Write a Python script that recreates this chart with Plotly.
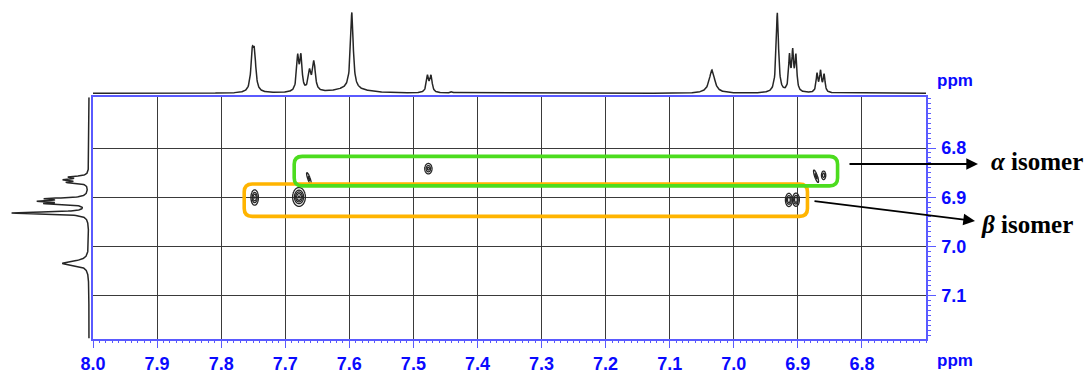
import numpy as np
import plotly.graph_objects as go

# ---------------- data ----------------
# 1D 1H spectrum shown along the top (F2): line positions (ppm), heights, half-widths (ppm)
f2_shift = [7.7515, 7.7480, 7.6805, 7.6755, 7.6620, 7.6552, 7.5960, 7.6000,
            7.4780, 7.4725, 7.4400, 7.0340, 6.9320, 6.9130, 6.9080, 6.9030,
            6.8700, 6.8645, 6.8590]
f2_height = [34, 34, 33, 33, 19, 29, 76, 4,
             16, 16, 1.5, 23, 79, 34, 37, 34,
             18, 20, 17]
f2_hwhm = [0.0025, 0.0025, 0.0021, 0.0021, 0.0025, 0.0025, 0.0025, 0.0300,
           0.0021, 0.0021, 0.0020, 0.0050, 0.0022, 0.0017, 0.0017, 0.0017,
           0.0017, 0.0017, 0.0017]

# 1D projection shown on the left (F1)
f1_shift = [6.8700, 6.8645, 6.8590, 6.9130, 6.9080, 6.9030, 6.9320, 7.0340]
f1_height = [20, 22, 18, 38, 42, 38, 78, 27]
f1_hwhm = [0.0020, 0.0020, 0.0020, 0.0020, 0.0020, 0.0020, 0.0022, 0.0050]

# 2D cross peaks: F2 (ppm), F1 (ppm), amplitude, widths (ppm), tilt
cp_f2 = [7.7477, 7.6785, 6.9140, 6.9030, 7.6630, 7.4766, 6.8716, 6.8598]
cp_f1 = [6.9006, 6.8994, 6.9055, 6.9050, 6.8620, 6.8420, 6.8574, 6.8555]
cp_amp = [1.0, 1.3, 0.95, 0.95, 0.5, 0.8, 0.55, 0.6]
cp_sx = [0.0030, 0.0048, 0.0028, 0.0028, 0.0013, 0.0031, 0.0014, 0.0020]
cp_sy = [0.0080, 0.0092, 0.0070, 0.0070, 0.0078, 0.0058, 0.0078, 0.0052]
cp_tilt = [0.0, 0.0, 0.0, 0.0, -0.254, 0.0, -0.254, 0.0]

# highlighted regions (F2 range, F1 range)
alpha_box_f2 = [6.838, 7.686]
alpha_box_f1 = [6.817, 6.877]
beta_box_f2 = [6.885, 7.764]
beta_box_f1 = [6.873, 6.939]

x_ticks = [8.0, 7.9, 7.8, 7.7, 7.6, 7.5, 7.4, 7.3, 7.2, 7.1, 7.0, 6.9, 6.8]
y_ticks = [6.8, 6.9, 7.0, 7.1]

# ---------------- helpers ----------------
W, H = 1090, 373
BLUE = "#0a0aff"
FRAME = "#5a5aff"
GRID = "#3a3a3a"


def lorentz(axis, shifts, heights, hwhms):
    out = np.zeros_like(axis)
    for s, h, w in zip(shifts, heights, hwhms):
        out += h / (1.0 + ((axis - s) / w) ** 2)
    return out


def px_x(p):
    return p / W


def px_y(p):
    return (H - p) / H


def rounded_box(xs, ys, rx, ry):
    xa, xb = min(xs), max(xs)
    ya, yb = min(ys), max(ys)
    return (f"M {xa + rx},{ya} L {xb - rx},{ya} Q {xb},{ya} {xb},{ya + ry} "
            f"L {xb},{yb - ry} Q {xb},{yb} {xb - rx},{yb} L {xa + rx},{yb} "
            f"Q {xa},{yb} {xa},{yb - ry} L {xa},{ya + ry} Q {xa},{ya} {xa + rx},{ya} Z")


X_RANGE = [8.0, 6.7]
Y_RANGE = [7.187, 6.697]

fig = go.Figure()

# top projection
ppm2 = np.linspace(6.7, 8.0, 2601)
spec2 = lorentz(ppm2, f2_shift, f2_height, f2_hwhm)
fig.add_trace(go.Scatter(x=ppm2, y=spec2, mode="lines", xaxis="x2", yaxis="y2",
                         line=dict(color="#262626", width=1.5), hoverinfo="skip"))

# left projection
ppm1 = np.linspace(6.697, 7.187, 1226)
spec1 = lorentz(ppm1, f1_shift, f1_height, f1_hwhm)
fig.add_trace(go.Scatter(x=spec1, y=ppm1, mode="lines", xaxis="x3", yaxis="y3",
                         line=dict(color="#262626", width=1.5), hoverinfo="skip"))

# contour cross peaks
for x0, y0, a, sx, sy, k in zip(cp_f2, cp_f1, cp_amp, cp_sx, cp_sy, cp_tilt):
    gx = np.linspace(x0 - 0.02, x0 + 0.02, 81)
    gy = np.linspace(y0 - 0.035, y0 + 0.035, 88)
    XX, YY = np.meshgrid(gx, gy)
    xs = XX - x0 - k * (YY - y0)
    Z = a * np.exp(-0.5 * ((xs / sx) ** 2 + ((YY - y0) / sy) ** 2))
    fig.add_trace(go.Contour(x=gx, y=gy, z=Z, xaxis="x", yaxis="y",
                             contours=dict(coloring="none", start=0.15, end=1.3, size=0.28),
                             line=dict(color="#262626", width=1.3),
                             showscale=False, hoverinfo="skip"))

# highlight boxes
rx, ry = 0.0125, 0.016
fig.add_shape(type="path", xref="x", yref="y",
              path=rounded_box(beta_box_f2, beta_box_f1, rx, ry),
              line=dict(color="#ffb400", width=3.6), layer="above")
fig.add_shape(type="path", xref="x", yref="y",
              path=rounded_box(alpha_box_f2, alpha_box_f1, rx, ry),
              line=dict(color="#4cdc1e", width=3.6), layer="above")

# arrows + labels
fig.add_annotation(x=px_x(978), y=px_y(164), xref="paper", yref="paper",
                   ax=-130, ay=0, axref="pixel", ayref="pixel", text="",
                   showarrow=True, arrowhead=2, arrowsize=1.3, arrowwidth=1.8,
                   arrowcolor="black")
fig.add_annotation(x=px_x(975), y=px_y(221), xref="paper", yref="paper",
                   ax=-162, ay=-20, axref="pixel", ayref="pixel", text="",
                   showarrow=True, arrowhead=2, arrowsize=1.3, arrowwidth=1.8,
                   arrowcolor="black")
fig.add_annotation(x=px_x(989), y=px_y(162), xref="paper", yref="paper",
                   xanchor="left", yanchor="middle", showarrow=False,
                   text="<b><i>α</i> isomer</b>",
                   font=dict(family="Liberation Serif", size=25, color="black"))
fig.add_annotation(x=px_x(979), y=px_y(225), xref="paper", yref="paper",
                   xanchor="left", yanchor="middle", showarrow=False,
                   text="<b><i>β</i> isomer</b>",
                   font=dict(family="Liberation Serif", size=25, color="black"))

# "ppm" axis unit labels
for yy in (80, 360):
    fig.add_annotation(x=px_x(955), y=px_y(yy), xref="paper", yref="paper",
                       xanchor="center", yanchor="middle",
                       showarrow=False, text="<b>ppm</b>",
                       font=dict(family="Liberation Sans", size=17, color=BLUE))

tickfont = dict(family="Liberation Sans", size=18, color=BLUE, weight="bold")
main_dom_x = [px_x(93), px_x(926)]
main_dom_y = [px_y(338.5), px_y(97.3)]

fig.update_layout(
    width=W, height=H, margin=dict(l=0, r=0, t=0, b=0, autoexpand=False),
    paper_bgcolor="white", plot_bgcolor="white", showlegend=False,
    xaxis=dict(domain=main_dom_x, range=X_RANGE, anchor="y", automargin=False,
               tickmode="array", tickvals=x_ticks, ticktext=[f"{v:.1f}" for v in x_ticks],
               tickfont=tickfont, ticks="outside", ticklen=8, tickwidth=1.3, tickcolor=FRAME,
               ticklabelstandoff=0,
               minor=dict(ticks="outside", ticklen=3, tickwidth=1, tickcolor=FRAME,
                          tickmode="linear", tick0=6.7, dtick=0.01, showgrid=False),
               showgrid=True, gridcolor=GRID, gridwidth=1.2, zeroline=False,
               showline=True, linecolor=FRAME, linewidth=1.5, mirror=True),
    yaxis=dict(domain=main_dom_y, range=Y_RANGE, anchor="x", side="right", automargin=False,
               tickmode="array", tickvals=y_ticks, ticktext=[f"{v:.1f}" for v in y_ticks],
               tickfont=tickfont, ticks="outside", ticklen=8, tickwidth=1.3, tickcolor=FRAME,
               ticklabelstandoff=2,
               minor=dict(ticks="outside", ticklen=3, tickwidth=1, tickcolor=FRAME,
                          tickmode="linear", tick0=6.7, dtick=0.01, showgrid=False),
               showgrid=True, gridcolor=GRID, gridwidth=1.2, zeroline=False,
               showline=True, linecolor=FRAME, linewidth=1.5, mirror=True),
    xaxis2=dict(domain=main_dom_x, range=X_RANGE, anchor="y2", visible=False, automargin=False),
    yaxis2=dict(domain=[px_y(96), 1.0], range=[-2.67, 92.4], anchor="x2", visible=False,
                automargin=False),
    xaxis3=dict(domain=[0, px_x(93)], range=[90.1, -4.05], anchor="y3", visible=False,
                automargin=False),
    yaxis3=dict(domain=main_dom_y, range=Y_RANGE, anchor="x3", visible=False, automargin=False),
)

fig.write_html("out.html")
